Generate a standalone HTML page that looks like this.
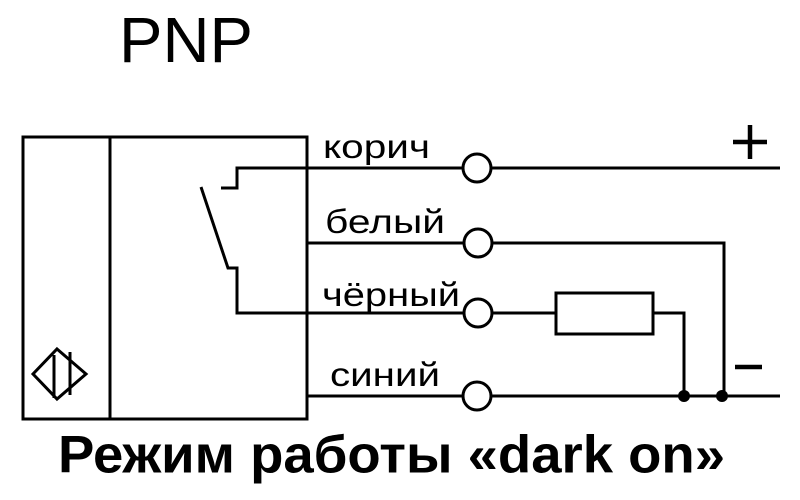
<!DOCTYPE html>
<html><head><meta charset="utf-8"><style>html,body{margin:0;padding:0;background:#fff;}svg{display:block}</style></head>
<body>
<svg width="800" height="500" viewBox="0 0 800 500" xmlns="http://www.w3.org/2000/svg">
<rect width="800" height="500" fill="#fff"/>
<g fill="none" stroke="#000" stroke-width="3">
<rect x="23" y="137" width="284" height="282"/>
<line x1="110" y1="137" x2="110" y2="419"/>
<polyline points="221,188 237,188 237,168 780,168"/>
<polyline points="201,187 228,268 237,268 237,313 556,313"/>
<rect x="556" y="293" width="97" height="41"/>
<polyline points="653,313 684,313 684,396"/>
<polyline points="307,243 724,243 724,396"/>
<line x1="307" y1="396" x2="780" y2="396"/>
<path d="M57,349 L86,374 L57,399 L33,374 Z"/>
<line x1="54" y1="355" x2="54" y2="398"/>
<line x1="70" y1="352" x2="70" y2="395"/>
</g>
<g fill="#fff" stroke="#000" stroke-width="3">
<circle cx="477" cy="168" r="14"/>
<circle cx="478" cy="243" r="14"/>
<circle cx="478" cy="313" r="14"/>
<circle cx="477" cy="396" r="14"/>
</g>
<circle cx="684" cy="396" r="6" fill="#000"/>
<circle cx="722" cy="396" r="6" fill="#000"/>
<g font-family="Liberation Sans, sans-serif" font-size="33" fill="#000">
<text x="323" y="158" textLength="107" lengthAdjust="spacingAndGlyphs">корич</text>
<text x="325" y="233" textLength="120" lengthAdjust="spacingAndGlyphs">белый</text>
<text x="322" y="306" textLength="138" lengthAdjust="spacingAndGlyphs">чёрный</text>
<text x="330" y="386" textLength="110" lengthAdjust="spacingAndGlyphs">синий</text>
</g>
<g stroke="#000" stroke-width="4.5">
<line x1="733" y1="142" x2="767" y2="142"/>
<line x1="750" y1="125" x2="750" y2="159"/>
<line x1="735" y1="367" x2="762" y2="367"/>
</g>
<text x="119" y="62" font-family="Liberation Sans, sans-serif" font-size="64" textLength="134" lengthAdjust="spacingAndGlyphs">PNP</text>
<text x="58" y="474" font-family="Liberation Sans, sans-serif" font-weight="bold" font-size="46" textLength="667" lengthAdjust="spacingAndGlyphs" transform="translate(0,-68) scale(1,1.14)">Режим работы «dark on»</text>
</svg>
</body></html>
